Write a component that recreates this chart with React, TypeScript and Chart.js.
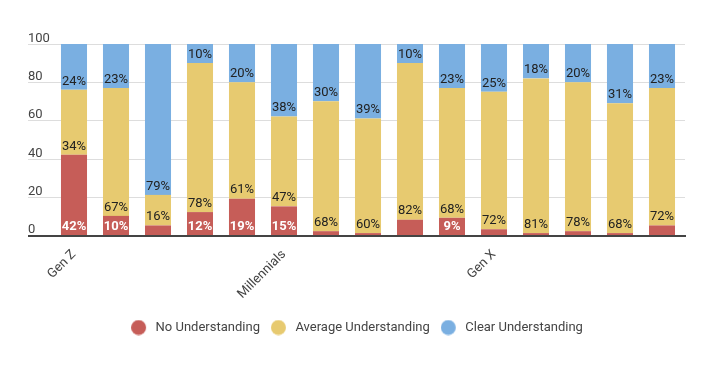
import React, { useEffect, useRef } from "react";
import { Chart, registerables } from "chart.js";

Chart.register(...registerables);

const categories = ["Gen Z", "", "", "", "", "Millennials", "", "", "", "", "Gen X", "", "", "", ""];
const noUnderstanding = [42, 10, 5, 12, 19, 15, 2, 1, 8, 9, 3, 1, 2, 1, 5];
const averageUnderstanding = [34, 67, 16, 78, 61, 47, 68, 60, 82, 68, 72, 81, 78, 68, 72];
const clearUnderstanding = [24, 23, 79, 10, 20, 38, 30, 39, 10, 23, 25, 18, 20, 31, 23];
const seriesNames = ["No Understanding", "Average Understanding", "Clear Understanding"];
const yTicks = [0, 20, 40, 60, 80, 100];

const COLORS = ["#c65d58", "#e7ca70", "#7aafe1"];
const FONT = "Roboto";

function makeDot(color: string) {
  const c = document.createElement("canvas");
  c.width = 18;
  c.height = 16;
  const g = c.getContext("2d")!;
  g.fillStyle = color;
  g.beginPath();
  g.arc(7.5, 8, 7.5, 0, Math.PI * 2);
  g.fill();
  return c;
}

const gridPlugin = {
  id: "customGrid",
  beforeDatasetsDraw(chart: any) {
    const { ctx, chartArea } = chart;
    const y = chart.scales.y;
    const left = chartArea.left - 25;
    const right = chartArea.right + 2;
    ctx.save();
    ctx.strokeStyle = "#dddddd";
    ctx.lineWidth = 1;
    ctx.font = `13px ${FONT}`;
    ctx.fillStyle = "#444444";
    ctx.textAlign = "left";
    ctx.textBaseline = "alphabetic";
    yTicks.forEach((v) => {
      const py = Math.round(y.getPixelForValue(v)) + 0.5;
      if (v !== 0) {
        ctx.beginPath();
        ctx.moveTo(left, py);
        ctx.lineTo(right, py);
        ctx.stroke();
      }
      ctx.fillText(String(v), left, py - 3);
    });
    ctx.restore();
  },
  afterDatasetsDraw(chart: any) {
    const { ctx, chartArea } = chart;
    const y = chart.scales.y;
    const py = y.getPixelForValue(0);
    ctx.save();
    ctx.fillStyle = "#444444";
    ctx.fillRect(chartArea.left - 25, Math.round(py), chartArea.right + 3 - (chartArea.left - 25), 2);
    ctx.restore();
  },
};

const labelPlugin = {
  id: "segmentLabels",
  afterDatasetsDraw(chart: any) {
    const { ctx } = chart;
    chart.data.datasets.forEach((ds: any, di: number) => {
      const meta = chart.getDatasetMeta(di);
      meta.data.forEach((bar: any, i: number) => {
        const { x, y, base } = bar.getProps(["x", "y", "base"], true);
        if (base - y < 16) return;
        ctx.save();
        ctx.textAlign = "center";
        ctx.textBaseline = "bottom";
        if (di === 0) {
          ctx.font = `bold 13px ${FONT}`;
          ctx.fillStyle = "#ffffff";
        } else {
          ctx.font = `13px ${FONT}`;
          ctx.fillStyle = "#222222";
        }
        ctx.fillText(ds.data[i] + "%", x, base - 2);
        ctx.restore();
      });
    });
  },
};

export default function App() {
  const ref = useRef<HTMLCanvasElement>(null);
  useEffect(() => {
    if (!ref.current) return;
    const dots = COLORS.map(makeDot);
    const chart = new Chart(ref.current, {
      type: "bar",
      data: {
        labels: categories,
        datasets: [noUnderstanding, averageUnderstanding, clearUnderstanding].map((d, i) => ({
          label: seriesNames[i],
          data: d,
          backgroundColor: COLORS[i],
          borderWidth: 0,
          barPercentage: 0.62,
          categoryPercentage: 1,
          pointStyle: dots[i] as any,
        })),
      },
      options: {
        responsive: false,
        animation: false,
        layout: { padding: { left: 31, right: 38, top: 44, bottom: 25 } },
        plugins: {
          tooltip: { enabled: false },
          legend: {
            position: "bottom",
            labels: {
              usePointStyle: true,
              pointStyleWidth: 18,
              boxHeight: 13,
              padding: 11,
              color: "#444444",
              font: { family: FONT, size: 13 },
            },
          },
        },
        scales: {
          x: {
            stacked: true,
            grid: { display: false },
            border: { display: false },
            ticks: {
              autoSkip: false,
              maxRotation: 45,
              minRotation: 45,
              color: "#444444",
              font: { family: FONT, size: 13 },
              padding: 4,
            },
            afterFit: (s: any) => {
              s.height = 75;
            },
          },
          y: {
            stacked: true,
            min: 0,
            max: 100,
            grid: { display: false },
            border: { display: false },
            ticks: { display: false, stepSize: 20 },
            afterFit: (s: any) => {
              s.width = 22;
            },
          },
        },
      },
      plugins: [gridPlugin, labelPlugin],
    });
    return () => chart.destroy();
  }, []);
  return (
    <div style={{ position: "fixed", left: 0, top: 0, width: 721, height: 369 }}>
      <canvas ref={ref} width={721} height={369} style={{ display: "block" }} />
    </div>
  );
}
